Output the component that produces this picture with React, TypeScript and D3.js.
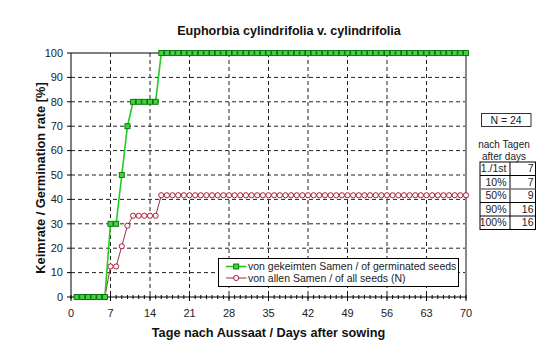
import React from "react";
import * as d3 from "d3";

const days: number[] = [
  1, 2, 3, 4, 5, 6, 7, 8, 9, 10, 11, 12, 13, 14, 15, 16, 17, 18, 19, 20,
  21, 22, 23, 24, 25, 26, 27, 28, 29, 30, 31, 32, 33, 34, 35, 36, 37, 38, 39, 40,
  41, 42, 43, 44, 45, 46, 47, 48, 49, 50, 51, 52, 53, 54, 55, 56, 57, 58, 59, 60,
  61, 62, 63, 64, 65, 66, 67, 68, 69, 70,
];

const germinatedSeeds: number[] = [
  0, 0, 0, 0, 0, 0, 30, 30, 50, 70, 80, 80, 80, 80, 80, 100, 100, 100, 100, 100,
  100, 100, 100, 100, 100, 100, 100, 100, 100, 100, 100, 100, 100, 100, 100, 100, 100, 100, 100, 100,
  100, 100, 100, 100, 100, 100, 100, 100, 100, 100, 100, 100, 100, 100, 100, 100, 100, 100, 100, 100,
  100, 100, 100, 100, 100, 100, 100, 100, 100, 100,
];

const allSeeds: number[] = [
  0, 0, 0, 0, 0, 0, 12.5, 12.5, 20.8, 29.2, 33.3, 33.3, 33.3, 33.3, 33.3, 41.7, 41.7, 41.7, 41.7, 41.7,
  41.7, 41.7, 41.7, 41.7, 41.7, 41.7, 41.7, 41.7, 41.7, 41.7, 41.7, 41.7, 41.7, 41.7, 41.7, 41.7, 41.7, 41.7, 41.7, 41.7,
  41.7, 41.7, 41.7, 41.7, 41.7, 41.7, 41.7, 41.7, 41.7, 41.7, 41.7, 41.7, 41.7, 41.7, 41.7, 41.7, 41.7, 41.7, 41.7, 41.7,
  41.7, 41.7, 41.7, 41.7, 41.7, 41.7, 41.7, 41.7, 41.7, 41.7,
];

const xTicks: number[] = [0, 7, 14, 21, 28, 35, 42, 49, 56, 63, 70];
const yTicks: number[] = [0, 10, 20, 30, 40, 50, 60, 70, 80, 90, 100];

const title = "Euphorbia cylindrifolia v. cylindrifolia";
const xLabel = "Tage nach Aussaat / Days after sowing";
const yLabel = "Keimrate / Germination rate [%]";
const legendLabels: string[] = [
  "von gekeimten Samen / of germinated seeds",
  "von allen Samen / of all seeds (N)",
];
const nLabel = "N = 24";
const tableHeader: string[] = ["nach Tagen", "after days"];
const tableRowLabels: string[] = ["1./1st", "10%", "50%", "90%", "100%"];
const tableRowValues: number[] = [7, 7, 9, 16, 16];

const FONT = "'Liberation Sans', Arial, sans-serif";

export default function App() {
  const W = 560;
  const H = 360;
  const left = 71;
  const right = 466;
  const top = 53;
  const bottom = 297;

  const x = d3.scaleLinear().domain([0, 70]).range([left, right]);
  const y = d3.scaleLinear().domain([0, 100]).range([bottom, top]);

  const greenPts = days.map((d, i) => [d, germinatedSeeds[i]] as [number, number]);
  const redPts = days.map((d, i) => [d, allSeeds[i]] as [number, number]);
  const line = d3
    .line<[number, number]>()
    .x((d) => x(d[0]))
    .y((d) => y(d[1]));

  const minorDays = d3.range(0, 71);

  const greenLine = "#1fcc1f";
  const greenEdge = "#0a6a0a";
  const greenFill = "#3ad63a";
  const redLine = "#993340";
  const redEdge = "#9a1030";
  const redFill = "#fff4f4";

  const sq = 5;
  const cr = 2.6;

  // table layout
  const tLeft = 480;
  const tMid = 510;
  const tRight = 535.5;
  const tTop = 162;
  const rowH = 13.5;

  const legX = 218.5;
  const legY = 258.5;
  const legW = 240;
  const legH = 28;

  return (
    <svg
      width={W}
      height={H}
      style={{ position: "absolute", left: 0, top: 0, background: "#fff" }}
      fontFamily={FONT}
    >
      <rect x={0} y={0} width={W} height={H} fill="#fff" />
      {/* title */}
      <text x={289} y={35} textAnchor="middle" fontWeight="bold" fontSize={12.6} fill="#111">
        {title}
      </text>

      {/* horizontal gridlines */}
      {yTicks
        .filter((t) => t > 0 && t < 100)
        .map((t) => (
          <line
            key={"hg" + t}
            x1={left}
            x2={right}
            y1={y(t)}
            y2={y(t)}
            stroke="#222"
            strokeWidth={1}
            strokeDasharray="4,3"
          />
        ))}
      {/* vertical gridlines */}
      {xTicks
        .filter((t) => t > 0 && t < 70)
        .map((t) => (
          <line
            key={"vg" + t}
            x1={x(t)}
            x2={x(t)}
            y1={top}
            y2={bottom}
            stroke="#222"
            strokeWidth={1}
            strokeDasharray="4,3"
          />
        ))}

      {/* plot border */}
      <line x1={left} x2={right} y1={top} y2={top} stroke="#000" strokeWidth={1} />
      <line x1={right} x2={right} y1={top} y2={bottom} stroke="#888" strokeWidth={2} />
      <line x1={left} x2={left} y1={top} y2={bottom} stroke="#000" strokeWidth={1} />
      <line x1={left} x2={right} y1={bottom} y2={bottom} stroke="#000" strokeWidth={1} />

      {/* y ticks */}
      {yTicks.map((t) => (
        <g key={"yt" + t}>
          <line x1={left - 4} x2={left} y1={y(t)} y2={y(t)} stroke="#000" />
          <text x={63} y={y(t)} dy="0.35em" textAnchor="end" fontSize={11} fill="#222">
            {t}
          </text>
        </g>
      ))}
      {/* x minor ticks */}
      {minorDays.map((d) => (
        <line key={"mx" + d} x1={x(d)} x2={x(d)} y1={bottom - 2} y2={bottom + 2} stroke="#000" />
      ))}
      {xTicks.map((t) => (
        <g key={"xt" + t}>
          <line x1={x(t)} x2={x(t)} y1={bottom} y2={bottom + 4} stroke="#000" />
          <text x={x(t)} y={313} dy="0.35em" textAnchor="middle" fontSize={11} fill="#222">
            {t}
          </text>
        </g>
      ))}

      {/* axis titles */}
      <text x={268.5} y={337} textAnchor="middle" fontWeight="bold" fontSize={12.7} fill="#111">
        {xLabel}
      </text>
      <text
        transform={`translate(45,178) rotate(-90)`}
        textAnchor="middle"
        fontWeight="bold"
        fontSize={12.8}
        fill="#111"
      >
        {yLabel}
      </text>

      {/* red series */}
      <path d={line(redPts) || ""} fill="none" stroke={redLine} strokeWidth={1} />
      {redPts.map((p, i) => (
        <circle key={"rp" + i} cx={x(p[0])} cy={y(p[1])} r={cr} fill={redFill} stroke={redEdge} strokeWidth={0.9} />
      ))}
      {/* green series */}
      <path d={line(greenPts) || ""} fill="none" stroke={greenLine} strokeWidth={1.6} />
      {greenPts.map((p, i) => (
        <rect
          key={"gp" + i}
          x={x(p[0]) - sq / 2}
          y={y(p[1]) - sq / 2}
          width={sq}
          height={sq}
          fill={greenFill}
          stroke={greenEdge}
          strokeWidth={0.9}
        />
      ))}

      {/* legend */}
      <rect x={legX} y={legY} width={legW} height={legH} fill="#fff" stroke="#000" strokeWidth={1} />
      <line x1={226} x2={246.5} y1={266.5} y2={266.5} stroke={greenLine} strokeWidth={1.6} />
      <rect x={236.2 - sq / 2} y={266.5 - sq / 2} width={sq} height={sq} fill={greenFill} stroke={greenEdge} strokeWidth={0.9} />
      <text x={248} y={266.5} dy="0.35em" fontSize={10.5} fill="#222">
        {legendLabels[0]}
      </text>
      <line x1={226} x2={246.5} y1={278} y2={278} stroke={redLine} strokeWidth={1} />
      <circle cx={236.2} cy={278} r={cr} fill={redFill} stroke={redEdge} strokeWidth={0.9} />
      <text x={248} y={278} dy="0.35em" fontSize={10.5} fill="#222">
        {legendLabels[1]}
      </text>

      {/* N box */}
      <rect x={481.5} y={113.5} width={49.5} height={13} fill="#fff" stroke="#333" strokeWidth={1} />
      <text x={506} y={120} dy="0.35em" textAnchor="middle" fontSize={10.5} fill="#222">
        {nLabel}
      </text>

      {/* table header */}
      <text x={504} y={144} dy="0.35em" textAnchor="middle" fontSize={10} fill="#222">
        {tableHeader[0]}
      </text>
      <text x={504} y={156} dy="0.35em" textAnchor="middle" fontSize={10} fill="#222">
        {tableHeader[1]}
      </text>

      {/* table */}
      <rect
        x={tLeft}
        y={tTop}
        width={tRight - tLeft}
        height={rowH * tableRowLabels.length}
        fill="#fff"
        stroke="#000"
        strokeWidth={1}
      />
      <line x1={tMid} x2={tMid} y1={tTop} y2={tTop + rowH * tableRowLabels.length} stroke="#000" />
      {tableRowLabels.map((lab, i) => (
        <g key={"tr" + i}>
          {i > 0 && (
            <line
              x1={tLeft}
              x2={tRight}
              y1={tTop + rowH * i}
              y2={tTop + rowH * i}
              stroke={i === 2 ? "#777" : "#000"}
              strokeWidth={i === 2 ? 1.5 : 1}
            />
          )}
          <text
            x={tMid - 3.5}
            y={tTop + rowH * i + rowH / 2}
            dy="0.35em"
            textAnchor="end"
            fontSize={10.5}
            fill="#222"
          >
            {lab}
          </text>
          <text
            x={tRight - 2}
            y={tTop + rowH * i + rowH / 2}
            dy="0.35em"
            textAnchor="end"
            fontSize={10.5}
            fill="#222"
          >
            {tableRowValues[i]}
          </text>
        </g>
      ))}
    </svg>
  );
}
